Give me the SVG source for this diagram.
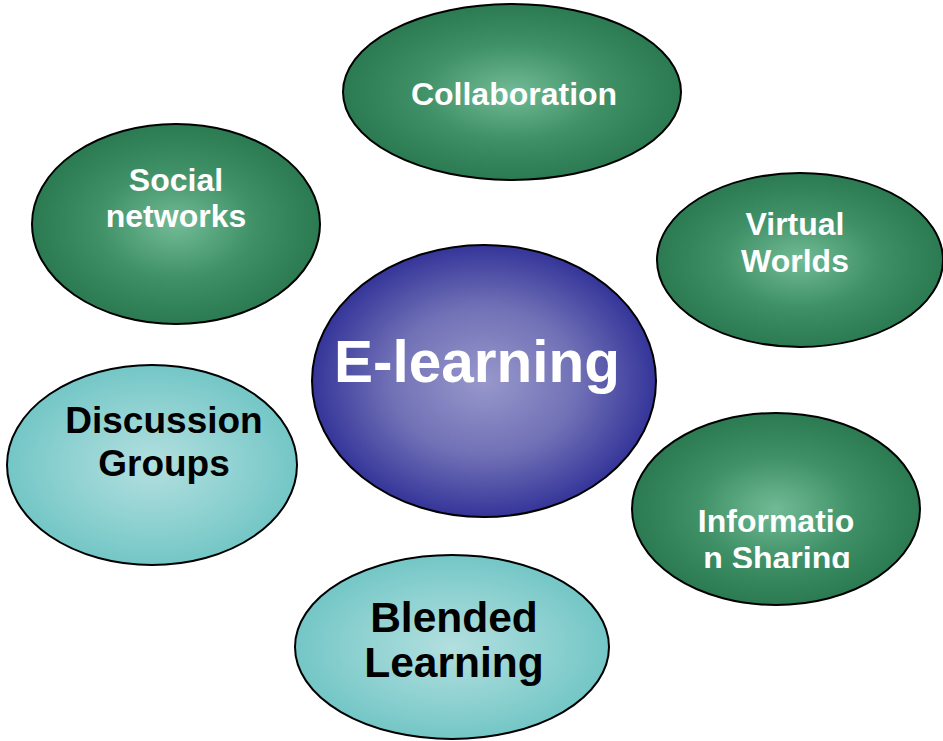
<svg xmlns="http://www.w3.org/2000/svg" width="943" height="741" viewBox="0 0 943 741">
<style>
.node ellipse{stroke:#000;stroke-width:2}
.lw{font-family:"Liberation Sans",Arial,sans-serif;font-weight:bold;fill:#fff;text-anchor:middle}
.lb{font-family:"Liberation Sans",Arial,sans-serif;font-weight:bold;fill:#000;text-anchor:middle}
</style>
<defs>
<radialGradient id="gGreen" cx="50%" cy="50%" r="50%">
<stop offset="0" stop-color="#71BB96"/>
<stop offset="0.55" stop-color="#3F9066"/>
<stop offset="1" stop-color="#2B7A52"/>
</radialGradient>
<radialGradient id="gBlue" cx="50%" cy="50%" r="50%">
<stop offset="0" stop-color="#9898CC"/>
<stop offset="0.55" stop-color="#7070B6"/>
<stop offset="1" stop-color="#35359A"/>
</radialGradient>
<radialGradient id="gTeal" cx="50%" cy="50%" r="50%">
<stop offset="0" stop-color="#B3DFDF"/>
<stop offset="0.6" stop-color="#8ED1D1"/>
<stop offset="1" stop-color="#74C6C6"/>
</radialGradient>
<clipPath id="clipInfo"><rect x="630" y="400" width="300" height="168"/></clipPath>
</defs>
<g id="connectors"></g>
<g id="collaboration" class="node">
<ellipse cx="512" cy="92" rx="169" ry="88" fill="url(#gGreen)"/>
<text class="lw" x="514" y="105" font-size="32">Collaboration</text>
</g>
<g id="social-networks" class="node">
<ellipse cx="176" cy="224" rx="144" ry="100" fill="url(#gGreen)"/>
<text class="lw" x="176" y="191" font-size="32">Social</text>
<text class="lw" x="176" y="227" font-size="32">networks</text>
</g>
<g id="virtual-worlds" class="node">
<ellipse cx="800" cy="260" rx="143" ry="87" fill="url(#gGreen)"/>
<text class="lw" x="795" y="235" font-size="32">Virtual</text>
<text class="lw" x="795" y="272" font-size="32">Worlds</text>
</g>
<g id="e-learning" class="node">
<ellipse cx="484" cy="381" rx="172" ry="136" fill="url(#gBlue)"/>
<text class="lw" x="477" y="382" font-size="58.5">E-learning</text>
</g>
<g id="discussion-groups" class="node">
<ellipse cx="152" cy="465" rx="145" ry="100" fill="url(#gTeal)"/>
<text class="lb" x="164" y="433" font-size="37">Discussion</text>
<text class="lb" x="164" y="476" font-size="37">Groups</text>
</g>
<g id="information-sharing" class="node">
<ellipse cx="776" cy="509" rx="144" ry="96" fill="url(#gGreen)"/>
<g clip-path="url(#clipInfo)">
<text class="lw" x="776" y="532" font-size="32">Informatio</text>
<text class="lw" x="777" y="569" font-size="32">n Sharing</text>
</g>
</g>
<g id="blended-learning" class="node">
<ellipse cx="452" cy="647" rx="157" ry="92" fill="url(#gTeal)"/>
<text class="lb" x="454" y="632" font-size="42.5">Blended</text>
<text class="lb" x="454" y="677" font-size="42.5">Learning</text>
</g>
</svg>
